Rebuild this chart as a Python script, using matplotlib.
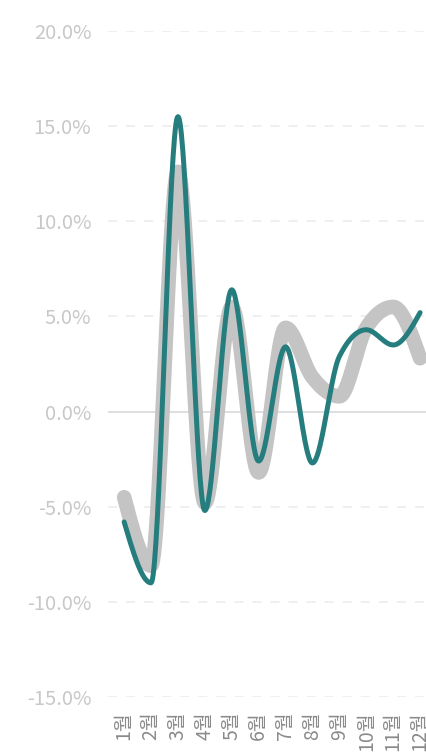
import matplotlib
matplotlib.use("Agg")
import matplotlib.pyplot as plt
import numpy as np
from matplotlib.ticker import FuncFormatter

plt.rcParams["font.family"] = ["Noto Sans CJK KR", "DejaVu Sans"]

months = ["1월", "2월", "3월", "4월", "5월", "6월", "7월", "8월", "9월", "10월", "11월", "12월"]
gray_values = [-4.5, -8.1, 12.6, -4.8, 5.5, -3.2, 4.4, 1.8, 0.8, 4.4, 5.5, 2.8]
teal_values = [-5.8, -9.0, 15.5, -5.2, 6.4, -2.6, 3.4, -2.7, 2.9, 4.3, 3.5, 5.2]
y_ticks = [-15, -10, -5, 0, 5, 10, 15, 20]


def monotone_curve(x, y, n=40):
    # monotone cubic (like d3 curveMonotoneX), used only to draw a smooth line
    x = np.asarray(x, float)
    y = np.asarray(y, float)
    h = np.diff(x)
    s = np.diff(y) / h
    k = len(x)
    t = np.zeros(k)
    for i in range(1, k - 1):
        p = (s[i - 1] * h[i] + s[i] * h[i - 1]) / (h[i - 1] + h[i])
        t[i] = (np.sign(s[i - 1]) + np.sign(s[i])) * min(abs(s[i - 1]), abs(s[i]), 0.5 * abs(p))
    t[0] = (3 * s[0] - t[1]) / 2
    t[-1] = (3 * s[-1] - t[-2]) / 2
    xs_all, ys_all = [], []
    for i in range(k - 1):
        u = np.linspace(0, 1, n)
        h00 = 2 * u ** 3 - 3 * u ** 2 + 1
        h10 = u ** 3 - 2 * u ** 2 + u
        h01 = -2 * u ** 3 + 3 * u ** 2
        h11 = u ** 3 - u ** 2
        xs_all.append(x[i] + u * h[i])
        ys_all.append(h00 * y[i] + h10 * h[i] * t[i] + h01 * y[i + 1] + h11 * h[i] * t[i + 1])
    return np.concatenate(xs_all), np.concatenate(ys_all)


fig = plt.figure(figsize=(4.26, 7.55), dpi=100)
ax = fig.add_axes([108 / 426, 1 - 697 / 755, 1 - 108 / 426, (697 - 31) / 755])

xpos = np.arange(len(months))
for yv in y_ticks:
    if yv == 0:
        ax.axhline(yv, color="#dcdcdc", lw=1.3, zorder=1)
    else:
        ax.axhline(yv, color="#eeeeee", lw=1.3, ls=(0, (5, 5)), zorder=1)

gx, gy = monotone_curve(xpos, gray_values)
ax.plot(gx, gy, color="#c4c4c4", lw=10.5, solid_capstyle="round", zorder=2, clip_on=False)
tx, ty = monotone_curve(xpos, teal_values)
ax.plot(tx, ty, color="#267d7e", lw=3.6, solid_capstyle="round", zorder=3, clip_on=False)

ax.set_ylim(-15, 20)
ax.set_xlim(-0.6, 11.22)
ax.set_yticks(y_ticks)
ax.yaxis.set_major_formatter(FuncFormatter(lambda v, p: f"{v:.1f}%"))
ax.set_xticks(xpos)
ax.set_xticklabels(months, rotation=90)

for s in ax.spines.values():
    s.set_visible(False)
ax.tick_params(axis="y", length=0, pad=12, labelsize=14.5, labelcolor="#c8c8c8")
ax.tick_params(axis="x", length=0, pad=10, labelsize=14, labelcolor="#8a8a8a")
for lab in ax.get_yticklabels() + ax.get_xticklabels():
    lab.set_fontweight("light")

fig.savefig("out.png", dpi=100)
